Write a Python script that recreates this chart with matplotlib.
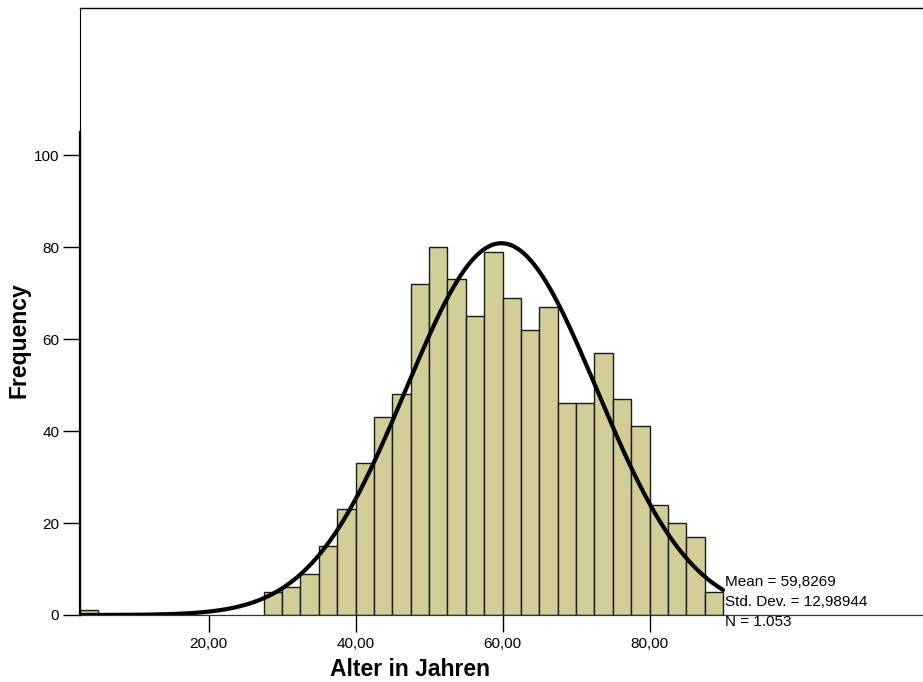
import numpy as np
import matplotlib.pyplot as plt

plt.rcParams['font.family'] = ['Liberation Sans', 'DejaVu Sans']

# Altersverteilung, Klassenbreite 2,5 Jahre
bin_start = [2.5, 27.5, 30.0, 32.5, 35.0, 37.5, 40.0, 42.5, 45.0, 47.5, 50.0,
             52.5, 55.0, 57.5, 60.0, 62.5, 65.0, 67.5, 70.0, 72.5, 75.0,
             77.5, 80.0, 82.5, 85.0, 87.5]
counts = [1, 5, 6, 9, 15, 23, 33, 43, 48, 72, 80,
          73, 65, 79, 69, 62, 67, 46, 46, 57, 47,
          41, 24, 20, 17, 5]
bin_width = 2.5

mean = 59.8269
std_dev = 12.98944
n_total = 1053

x_ticks = [20, 40, 60, 80]
x_tick_labels = ['20,00', '40,00', '60,00', '80,00']
y_ticks = [0, 20, 40, 60, 80, 100]

W, H = 923, 682
fig = plt.figure(figsize=(W / 100, H / 100), dpi=100)
ax = fig.add_axes([80 / W, 67 / H, 843 / W, 607 / H])

ax.bar(bin_start, counts, width=bin_width, align='edge',
       color='#D3CE97', edgecolor='#1a1a1a', linewidth=1.0, zorder=2)

# Normalverteilungskurve aus Mittelwert / Std.-Abw. / N
xs = np.linspace(2.5, 90, 400)
ys = n_total * bin_width / (std_dev * np.sqrt(2 * np.pi)) * np.exp(-0.5 * ((xs - mean) / std_dev) ** 2)
ax.plot(xs, ys, color='black', linewidth=3.0, zorder=3, solid_capstyle='round')

ax.set_xlim(2.5, 117.2)
ax.set_ylim(0, 132.0)

ax.spines['right'].set_visible(False)
ax.spines['top'].set_linewidth(1.0)
ax.spines['left'].set_linewidth(0.8)
ax.spines['bottom'].set_linewidth(0.9)
ax.spines['bottom'].set_color('#333333')
# kräftigere Achsenlinie im Wertebereich
ax.plot([2.5, 2.5], [0, 105], color='black', linewidth=1.6, clip_on=False, zorder=4)

ax.set_xticks(x_ticks)
ax.set_xticklabels(x_tick_labels)
ax.set_yticks(y_ticks)
ax.set_yticklabels([str(v) for v in y_ticks])
ax.tick_params(axis='both', direction='out', length=12, width=1.0, labelsize=11, colors='black')
ax.tick_params(axis='x', pad=4)
ax.tick_params(axis='y', pad=3)

fig.text(19 / W, 1 - 340 / H, 'Frequency', rotation=90, fontsize=16.5, fontweight='bold',
         ha='center', va='center')
fig.text(410 / W, 1 - 669 / H, 'Alter in Jahren', fontsize=16.5, fontweight='bold',
         ha='center', va='center')

stats = ['Mean = 59,8269', 'Std. Dev. = 12,98944', 'N = 1.053']
for i, line in enumerate(stats):
    fig.text(725 / W, 1 - (586 + 20 * i) / H, line, fontsize=11, ha='left', va='baseline')

fig.savefig('out.png', dpi=100)
